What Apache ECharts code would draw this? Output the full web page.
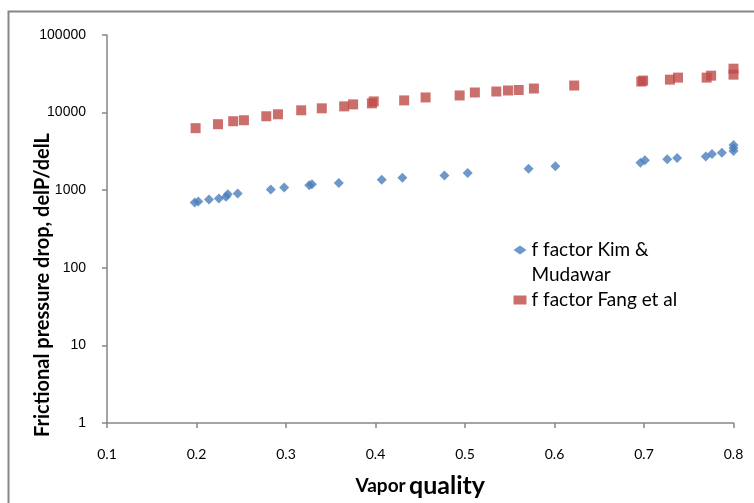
<!DOCTYPE html>
<html>
<head>
<meta charset="utf-8">
<script src="https://cdn.jsdelivr.net/npm/echarts@6/dist/echarts.min.js"></script>
<style>
html,body{margin:0;padding:0;background:#fff;}
#c{width:754px;height:503px;}
</style>
</head>
<body>
<div id="c"></div>
<script>
const seriesNames = ['f factor Kim & Mudawar', 'f factor Fang et al'];
const xTicks = [0.1, 0.2, 0.3, 0.4, 0.5, 0.6, 0.7, 0.8];
const yTicks = [1, 10, 100, 1000, 10000, 100000];

const kimX = [0.198, 0.202, 0.214, 0.225, 0.233, 0.235, 0.246, 0.283, 0.298, 0.326, 0.329, 0.359, 0.407, 0.430, 0.477, 0.503, 0.571, 0.601, 0.696, 0.701, 0.726, 0.737, 0.769, 0.776, 0.787, 0.800, 0.800, 0.800];
const kimY = [694, 715, 758, 781, 821, 887, 905, 1018, 1080, 1160, 1195, 1240, 1366, 1449, 1550, 1663, 1888, 2032, 2250, 2423, 2511, 2608, 2725, 2933, 3049, 3206, 3500, 3820];

const fangX = [0.199, 0.224, 0.241, 0.253, 0.278, 0.291, 0.317, 0.340, 0.365, 0.375, 0.396, 0.398, 0.432, 0.456, 0.494, 0.511, 0.535, 0.548, 0.560, 0.577, 0.622, 0.697, 0.699, 0.729, 0.738, 0.770, 0.775, 0.800, 0.800];
const fangY = [6300, 7090, 7740, 7970, 8970, 9510, 10700, 11350, 12030, 12760, 13150, 13930, 14360, 15680, 16630, 18160, 18700, 19270, 19550, 20430, 22330, 25120, 25850, 26600, 28240, 28240, 29930, 30840, 36810];

const axisTitleX = ['Vapor', 'quality'];
const axisTitleY = 'Frictional pressure drop, delP/delL';

const pairs = (xs, ys) => xs.map((x, i) => [x, ys[i]]);

const chart = echarts.init(document.getElementById('c'));
chart.setOption({
  animation: false,
  backgroundColor: '#ffffff',
  grid: { left: 107, right: 20.5, top: 35, height: 391.5, containLabel: false },
  xAxis: {
    type: 'value',
    min: xTicks[0], max: xTicks[xTicks.length - 1], interval: 0.1,
    axisLine: { show: true, lineStyle: { color: '#868686', width: 1.5 } },
    axisTick: { show: true, inside: false, length: 5, lineStyle: { color: '#868686', width: 1.5 } },
    splitLine: { show: false },
    axisLabel: { margin: 24, color: '#000', fontFamily: 'Lato', fontSize: 14,
      formatter: v => (Math.round(v * 10) / 10).toFixed(1) },
    name: '{a|' + axisTitleX[0] + '} {b|' + axisTitleX[1] + '}',
    nameLocation: 'middle',
    nameGap: 50,
    nameTextStyle: {
      rich: {
        a: { fontFamily: 'Lato', fontWeight: 'bold', fontSize: 19, color: '#000' },
        b: { fontFamily: 'Lato', fontWeight: 'bold', fontSize: 25, color: '#000' }
      }
    }
  },
  yAxis: {
    type: 'log', logBase: 10,
    min: yTicks[0], max: yTicks[yTicks.length - 1],
    axisLine: { show: true, lineStyle: { color: '#868686', width: 1.5 } },
    axisTick: { show: true, inside: false, length: 5, lineStyle: { color: '#868686', width: 1.5 } },
    splitLine: { show: false },
    minorTick: { show: false },
    axisLabel: { margin: 21, color: '#000', fontFamily: 'Liberation Sans', fontSize: 14,
      formatter: v => String(Math.round(v)) }
  },
  legend: {
    orient: 'vertical',
    left: 513.5, top: 212.5,
    padding: 0,
    itemWidth: 13, itemHeight: 9,
    itemGap: 0,
    data: seriesNames,
    formatter: n => n === seriesNames[0] ? '\nf factor Kim &\nMudawar' : n,
    textStyle: { fontFamily: 'Lato', fontSize: 19, lineHeight: 25, color: '#000' }
  },
  graphic: [
    { type: 'rect', shape: { x: 8.5, y: 11.5, width: 800, height: 600 },
      style: { fill: 'none', stroke: '#868686', lineWidth: 2 }, silent: true },
    { type: 'text', x: 43, y: 285, rotation: Math.PI / 2,
      style: { text: axisTitleY, fontFamily: 'Lato', fontWeight: 'bold', fontSize: 20,
        fill: '#000', align: 'center', verticalAlign: 'middle' } }
  ],
  series: [
    { name: seriesNames[0], type: 'scatter', symbol: 'diamond', symbolSize: 10,
      itemStyle: { color: '#4A7EBB' }, data: pairs(kimX, kimY) },
    { name: seriesNames[1], type: 'scatter', symbol: 'rect', symbolSize: 10,
      itemStyle: { color: '#BE4B48' }, data: pairs(fangX, fangY) }
  ]
});
</script>
</body>
</html>
